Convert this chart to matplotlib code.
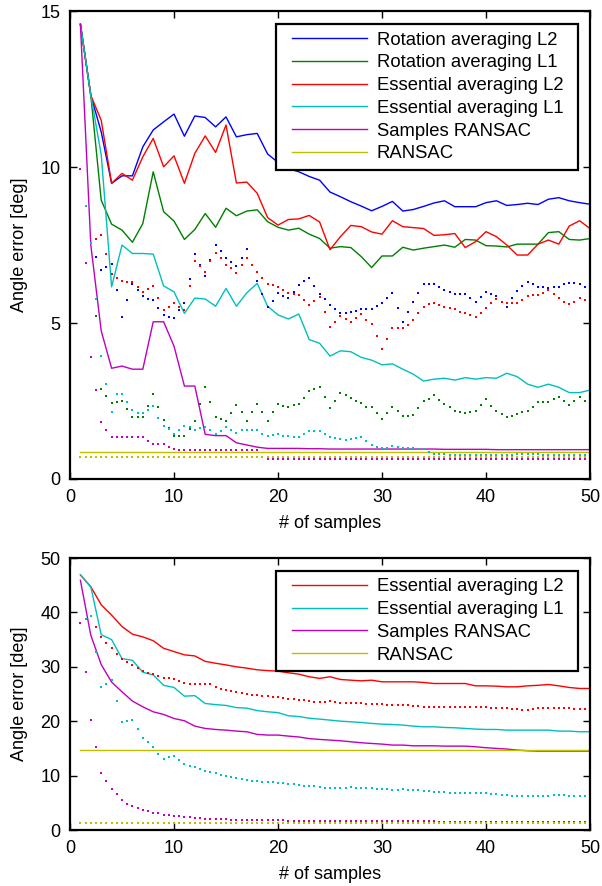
import numpy as np
import matplotlib
matplotlib.use('Agg')
import matplotlib.pyplot as plt
from matplotlib.path import Path

plt.rcParams['font.family'] = ['Liberation Sans', 'DejaVu Sans']

C_BLUE = (0, 0, 1)
C_GREEN = (0, 0.5, 0)
C_RED = (1, 0, 0)
C_CYAN = (0, 0.75, 0.75)
C_MAG = (0.75, 0, 0.75)
C_YEL = (0.75, 0.75, 0)

# x positions: solid curves every sample, dotted curves every half sample
x_solid = np.arange(1, 51)
x_dot = np.arange(1, 50.5, 0.5)

# ---- top panel: solid curves ----
top_rot_l2 = [14.58, 12.3, 11.13, 9.48, 9.72, 9.72, 10.65, 11.19, 11.45, 11.7,
              10.99, 11.64, 11.59, 11.29, 11.61, 10.97, 11.04, 11.08, 10.42, 10.15,
              9.95, 9.85, 9.7, 9.58, 9.2, 9.05, 8.89, 8.75, 8.6, 8.74,
              8.9, 8.59, 8.64, 8.74, 8.85, 8.92, 8.73, 8.73, 8.73, 8.86,
              8.92, 8.77, 8.8, 8.84, 8.8, 8.97, 9.02, 8.92, 8.86, 8.81]
top_rot_l1 = [14.58, 12.3, 8.94, 8.17, 7.98, 7.59, 8.19, 9.85, 8.57, 8.27,
              7.68, 8.0, 8.51, 8.07, 8.68, 8.44, 8.59, 8.63, 8.25, 8.07,
              7.98, 8.04, 7.85, 7.71, 7.4, 7.45, 7.42, 7.13, 6.78, 7.15,
              7.15, 7.43, 7.34, 7.4, 7.45, 7.5, 7.43, 7.68, 7.66, 7.48,
              7.47, 7.44, 7.53, 7.53, 7.53, 7.9, 7.93, 7.68, 7.66, 7.71]
top_ess_l2 = [14.58, 12.3, 11.5, 9.48, 9.8, 9.58, 10.33, 10.92, 10.01, 10.36,
              9.48, 10.44, 11.0, 10.47, 11.35, 9.49, 9.52, 9.16, 8.38, 8.14,
              8.32, 8.34, 8.45, 8.24, 7.35, 7.77, 8.13, 8.09, 7.92, 7.85,
              8.28, 8.09, 8.06, 8.03, 7.81, 7.83, 7.87, 7.42, 7.61, 7.93,
              7.77, 7.5, 7.18, 7.18, 7.53, 7.66, 7.53, 8.11, 8.28, 8.03]
top_ess_l1 = [14.58, 12.3, 10.4, 6.16, 7.5, 7.23, 7.23, 7.21, 6.19, 6.0,
              5.31, 5.8, 5.77, 5.54, 6.11, 5.54, 5.97, 6.27, 5.54, 5.26,
              5.13, 5.29, 4.47, 4.35, 3.94, 4.11, 4.08, 3.9, 3.81, 3.66,
              3.69, 3.52, 3.36, 3.14, 3.2, 3.23, 3.17, 3.25, 3.2, 3.25,
              3.23, 3.39, 3.28, 3.04, 2.94, 3.04, 2.94, 2.77, 2.77, 2.85]
top_samp = [14.58, 7.5, 4.75, 3.55, 3.62, 3.52, 3.52, 5.04, 5.04, 4.26,
            2.98, 2.98, 1.43, 1.39, 1.39, 1.16, 1.09, 1.02, 0.98, 0.98,
            0.98, 0.98, 0.97, 0.97, 0.96, 0.96, 0.96, 0.96, 0.96, 0.96,
            0.96, 0.96, 0.96, 0.96, 0.96, 0.95, 0.95, 0.95, 0.95, 0.95,
            0.94, 0.94, 0.94, 0.94, 0.94, 0.94, 0.94, 0.94, 0.94, 0.94]
top_ransac = [0.86] * 50

# ---- top panel: dotted curves ----
top_rot_l2_d = [9.94, 8.75, 7.57, 7.13, 6.7, 6.8, 6.9, 6.05, 5.18, 5.73,
                6.26, 6.06, 5.86, 5.78, 5.73, 5.48, 5.25, 5.2, 5.17, 5.41,
                5.64, 6.42, 7.21, 6.87, 6.51, 7.01, 7.5, 7.31, 7.1, 6.97,
                6.82, 7.1, 7.38, 6.87, 6.36, 5.93, 5.5, 5.71, 5.95, 5.88,
                5.81, 6.0, 6.23, 6.34, 6.44, 6.19, 5.94, 5.76, 5.57, 5.44,
                5.31, 5.33, 5.34, 5.4, 5.46, 5.46, 5.46, 5.54, 5.65, 5.81,
                5.95, 5.49, 5.02, 5.34, 5.66, 5.95, 6.24, 6.25, 6.25, 6.16,
                6.06, 6.0, 5.93, 5.92, 5.92, 5.79, 5.66, 5.84, 6.0, 5.93,
                5.87, 5.68, 5.52, 5.79, 6.04, 6.18, 6.3, 6.24, 6.16, 6.14,
                6.11, 6.15, 6.16, 6.24, 6.29, 6.27, 6.24, 6.16, 6.02]
top_rot_l1_d = [9.94, 8.75, 7.57, 5.22, 2.9, 2.67, 2.43, 2.46, 2.51, 2.24,
                1.98, 1.98, 1.98, 2.35, 2.71, 2.32, 1.89, 1.62, 1.38, 1.38,
                1.38, 1.6, 1.86, 2.4, 2.94, 2.46, 1.98, 1.91, 1.87, 2.13,
                2.38, 2.14, 1.87, 2.14, 2.41, 2.14, 1.87, 2.14, 2.41, 2.35,
                2.32, 2.37, 2.41, 2.61, 2.82, 2.89, 2.96, 2.62, 2.27, 2.51,
                2.76, 2.68, 2.61, 2.51, 2.43, 2.32, 2.3, 2.1, 1.91, 2.1,
                2.32, 2.18, 2.03, 2.03, 2.05, 2.29, 2.51, 2.58, 2.69, 2.53,
                2.4, 2.3, 2.19, 2.16, 2.1, 2.16, 2.19, 2.37, 2.55, 2.35,
                2.18, 2.07, 2.0, 2.03, 2.08, 2.14, 2.18, 2.3, 2.46, 2.46,
                2.46, 2.55, 2.62, 2.5, 2.37, 2.5, 2.62, 2.5, 2.36]
top_ess_l2_d = [9.94, 8.75, 7.57, 7.68, 7.82, 7.2, 6.56, 6.45, 6.35, 6.31,
                6.3, 6.16, 6.0, 6.1, 6.19, 5.81, 5.41, 5.53, 5.63, 5.53,
                5.41, 6.2, 6.99, 6.82, 6.63, 6.98, 7.26, 7.07, 6.87, 6.75,
                6.62, 6.85, 7.07, 6.87, 6.64, 6.44, 6.25, 6.21, 6.17, 6.05,
                5.97, 5.93, 5.9, 5.73, 5.57, 5.72, 5.83, 5.35, 4.87, 5.04,
                5.23, 5.13, 5.02, 5.15, 5.28, 5.09, 4.98, 4.58, 4.17, 4.5,
                4.83, 4.83, 4.83, 4.95, 5.1, 5.33, 5.5, 5.6, 5.63, 5.57,
                5.5, 5.47, 5.44, 5.36, 5.31, 5.25, 5.18, 5.33, 5.49, 5.63,
                5.76, 5.68, 5.63, 5.63, 5.63, 5.74, 5.88, 5.89, 5.89, 5.95,
                6.06, 5.92, 5.79, 5.68, 5.61, 5.68, 5.79, 5.74, 5.65]
top_ess_l1_d = [9.94, 8.75, 7.57, 5.76, 3.95, 3.04, 2.14, 2.71, 2.72, 2.46,
                2.21, 2.1, 2.1, 2.21, 2.34, 1.97, 1.7, 1.6, 1.44, 1.57,
                1.7, 1.66, 1.57, 1.62, 1.68, 1.57, 1.44, 1.54, 1.66, 1.57,
                1.48, 1.57, 1.57, 1.57, 1.57, 1.44, 1.38, 1.41, 1.44, 1.39,
                1.38, 1.36, 1.34, 1.44, 1.53, 1.54, 1.54, 1.44, 1.36, 1.3,
                1.28, 1.25, 1.27, 1.3, 1.33, 1.22, 1.09, 1.01, 0.98, 1.0,
                1.06, 1.01, 0.98, 0.98, 0.98, 0.96, 0.96, 0.88, 0.8, 0.79,
                0.79, 0.78, 0.78, 0.78, 0.77, 0.77, 0.77, 0.77, 0.77, 0.77,
                0.76, 0.76, 0.77, 0.78, 0.79, 0.79, 0.79, 0.79, 0.79, 0.77,
                0.76, 0.76, 0.76, 0.76, 0.76, 0.76, 0.76, 0.76, 0.76]
top_samp_d = ([9.94, 6.91, 3.9, 2.85, 1.82, 1.57, 1.34, 1.34, 1.33, 1.33,
               1.34, 1.34, 1.34, 1.23, 1.11, 1.11, 1.11, 1.01, 0.95, 0.94,
               0.94, 0.94, 0.94, 0.94, 0.94, 0.94, 0.94, 0.94, 0.94, 0.93,
               0.93, 0.93, 0.93, 0.93, 0.93, 0.7]
              + [0.65] * 63)
top_ransac_d = [0.72] * 99

# ---- bottom panel: solid curves ----
bot_ess_l2 = [46.9, 44.7, 41.4, 39.5, 37.4, 36.0, 35.5, 34.8, 33.4, 32.8,
              32.2, 32.0, 31.0, 30.65, 30.35, 30.0, 29.75, 29.45, 29.3, 29.2,
              28.9, 28.65, 28.17, 27.87, 28.17, 27.67, 27.54, 27.42, 27.54, 27.24,
              27.24, 27.24, 27.24, 27.12, 26.93, 26.93, 26.93, 26.93, 26.5, 26.5,
              26.44, 26.32, 26.32, 26.5, 26.6, 26.75, 26.5, 26.2, 26.02, 26.02]
bot_ess_l1 = [46.9, 44.7, 35.9, 35.0, 31.5, 31.2, 29.0, 28.5, 26.6, 26.2,
              24.6, 24.7, 23.26, 23.05, 22.9, 22.5, 22.4, 21.95, 21.73, 21.58,
              21.0, 20.85, 20.55, 20.38, 20.2, 20.01, 19.89, 19.77, 19.59, 19.46,
              19.4, 19.28, 19.1, 18.97, 18.97, 18.85, 18.79, 18.67, 18.55, 18.48,
              18.48, 18.36, 18.36, 18.36, 18.36, 18.36, 18.18, 18.18, 18.06, 18.06]
bot_samp = [45.9, 35.8, 30.4, 27.2, 25.4, 23.7, 22.65, 21.73, 21.24, 20.5,
            20.08, 19.1, 18.67, 18.48, 18.36, 18.18, 18.06, 17.57, 17.45, 17.45,
            17.26, 17.1, 16.8, 16.65, 16.53, 16.4, 16.22, 16.04, 15.91, 15.79,
            15.61, 15.61, 15.48, 15.48, 15.48, 15.42, 15.42, 15.42, 15.3, 15.12,
            15.0, 14.88, 14.69, 14.57, 14.51, 14.51, 14.51, 14.51, 14.51, 14.51]
bot_ransac = [14.7] * 50

# ---- bottom panel: dotted curves ----
bot_ess_l2_d = [38.1, 38.7, 39.3, 37.3, 35.4, 34.3, 33.4, 32.4, 31.4, 30.9,
                30.3, 29.7, 29.3, 28.9, 28.6, 28.3, 28.0, 28.0, 27.8, 27.4,
                27.1, 26.9, 26.9, 26.8, 26.8, 26.8, 26.3, 25.9, 25.8, 25.5,
                25.3, 25.1, 25.0, 24.9, 24.8, 24.7, 24.6, 24.45, 24.4, 24.2,
                24.1, 24.0, 23.9, 23.85, 23.7, 23.6, 23.5, 23.6, 23.7, 23.5,
                23.4, 23.3, 23.26, 23.26, 23.26, 23.2, 23.14, 23.14, 23.14, 23.0,
                22.95, 22.95, 22.95, 22.9, 22.83, 22.75, 22.65, 22.6, 22.52, 22.6,
                22.65, 22.65, 22.65, 22.65, 22.65, 22.6, 22.52, 22.52, 22.52, 22.5,
                22.46, 22.4, 22.34, 22.28, 22.22, 22.1, 22.03, 22.2, 22.34, 22.4,
                22.46, 22.46, 22.46, 22.4, 22.34, 22.28, 22.22, 22.2, 22.16]
bot_ess_l1_d = [38.1, 38.7, 39.3, 32.7, 26.2, 26.9, 27.5, 23.7, 19.8, 20.0,
                20.2, 18.6, 17.0, 16.1, 15.2, 14.0, 13.0, 13.35, 13.6, 12.9,
                12.1, 11.75, 11.5, 11.15, 10.85, 10.6, 10.4, 10.1, 9.9, 9.7,
                9.5, 9.3, 9.2, 9.05, 8.95, 8.9, 8.85, 8.75, 8.7, 8.6,
                8.5, 8.4, 8.3, 8.15, 8.05, 8.0, 7.9, 7.7, 7.7, 7.75,
                7.77, 7.8, 7.83, 7.8, 7.77, 7.7, 7.65, 7.62, 7.59, 7.45,
                7.34, 7.4, 7.47, 7.4, 7.34, 7.28, 7.22, 7.13, 7.04, 6.98,
                6.92, 6.88, 6.85, 6.8, 6.73, 6.73, 6.73, 6.73, 6.73, 6.67,
                6.61, 6.52, 6.43, 6.33, 6.24, 6.28, 6.31, 6.31, 6.31, 6.31,
                6.31, 6.35, 6.43, 6.37, 6.31, 6.31, 6.31, 6.31, 6.31]
bot_samp_d = [38.1, 29.1, 20.3, 15.3, 10.4, 9.0, 7.5, 6.55, 5.5, 4.85,
              4.35, 4.0, 3.65, 3.45, 3.2, 3.05, 2.85, 2.7, 2.6, 2.5,
              2.4, 2.3, 2.2, 2.15, 2.1, 2.05, 2.0, 1.97, 1.94, 1.92,
              1.9, 1.88, 1.86, 1.84, 1.82, 1.8, 1.78, 1.77, 1.76, 1.75,
              1.74, 1.73, 1.72, 1.71, 1.7, 1.69, 1.68, 1.67, 1.66, 1.65,
              1.65, 1.64, 1.64, 1.63, 1.63, 1.62, 1.62, 1.61, 1.61, 1.6,
              1.6, 1.6, 1.59, 1.59, 1.58, 1.58, 1.58, 1.57, 1.57, 1.56,
              1.56, 1.56, 1.55, 1.55, 1.55, 1.54, 1.54, 1.54, 1.53, 1.53,
              1.53, 1.52, 1.52, 1.52, 1.52, 1.51, 1.51, 1.51, 1.51, 1.5,
              1.5, 1.5, 1.5, 1.5, 1.5, 1.5, 1.5, 1.5, 1.5]
bot_ransac_d = [1.22] * 99

FS = 13
LEG_FS = 13.3
LW = 1.0
MS = 2.1


def dots(ax, y, color):
    ax.plot(x_dot, y, linestyle='none', marker='s', ms=MS, mew=0,
            color=color)


def wide_box(x0, y0, width, height, mutation_size):
    # legend frame with more room left/right than top/bottom
    dx = 0.42 * mutation_size
    return Path([(x0 - dx, y0), (x0 + width + dx, y0),
                 (x0 + width + dx, y0 + height), (x0 - dx, y0 + height),
                 (x0 - dx, y0)], closed=True)


def style_axes(ax, ylim, yticks):
    ax.set_xlim(0, 50)
    ax.set_ylim(*ylim)
    ax.set_xticks(range(0, 51, 10))
    ax.set_yticks(yticks)
    ax.tick_params(direction='in', length=5, width=1.0, labelsize=FS,
                   top=True, right=True, pad=7)
    for sp in ax.spines.values():
        sp.set_linewidth(1.6)
    ax.set_xlabel('# of samples', fontsize=FS, labelpad=7)
    ax.set_ylabel('Angle error [deg]', fontsize=FS, labelpad=9)


fig = plt.figure(figsize=(6.02, 8.86), dpi=100)
ax1 = fig.add_axes([0.1163, 0.4594, 0.8638, 0.528])
ax2 = fig.add_axes([0.1163, 0.0632, 0.8638, 0.307])

# top panel
ax1.plot(x_solid, top_rot_l2, color=C_BLUE, lw=LW, label='Rotation averaging L2')
ax1.plot(x_solid, top_rot_l1, color=C_GREEN, lw=LW, label='Rotation averaging L1')
ax1.plot(x_solid, top_ess_l2, color=C_RED, lw=LW, label='Essential averaging L2')
ax1.plot(x_solid, top_ess_l1, color=C_CYAN, lw=LW, label='Essential averaging L1')
ax1.plot(x_solid, top_samp, color=C_MAG, lw=LW, label='Samples RANSAC')
ax1.plot(x_solid, top_ransac, color=C_YEL, lw=LW, label='RANSAC')
dots(ax1, top_rot_l2_d, C_BLUE)
dots(ax1, top_rot_l1_d, C_GREEN)
dots(ax1, top_ess_l2_d, C_RED)
dots(ax1, top_ess_l1_d, C_CYAN)
dots(ax1, top_samp_d, C_MAG)
dots(ax1, top_ransac_d, C_YEL)
style_axes(ax1, (0, 15), [0, 5, 10, 15])

# bottom panel
ax2.plot(x_solid, bot_ess_l2, color=C_RED, lw=LW, label='Essential averaging L2')
ax2.plot(x_solid, bot_ess_l1, color=C_CYAN, lw=LW, label='Essential averaging L1')
ax2.plot(x_solid, bot_samp, color=C_MAG, lw=LW, label='Samples RANSAC')
ax2.plot(x_solid, bot_ransac, color=C_YEL, lw=LW, label='RANSAC')
dots(ax2, bot_ess_l2_d, C_RED)
dots(ax2, bot_ess_l1_d, C_CYAN)
dots(ax2, bot_samp_d, C_MAG)
dots(ax2, bot_ransac_d, C_YEL)
style_axes(ax2, (0, 50), range(0, 51, 10))

for ax, top in ((ax1, 0.972), (ax2, 0.952)):
    leg = ax.legend(loc='upper right', bbox_to_anchor=(0.9625, top),
                    borderaxespad=0, fontsize=LEG_FS, fancybox=False,
                    framealpha=1, edgecolor='black', handlelength=4.1,
                    handletextpad=0.5, labelspacing=0.31, borderpad=0.4)
    leg.get_frame().set_linewidth(1.6)
    leg.get_frame().set_boxstyle(wide_box)

fig.savefig('out.png', dpi=100)
